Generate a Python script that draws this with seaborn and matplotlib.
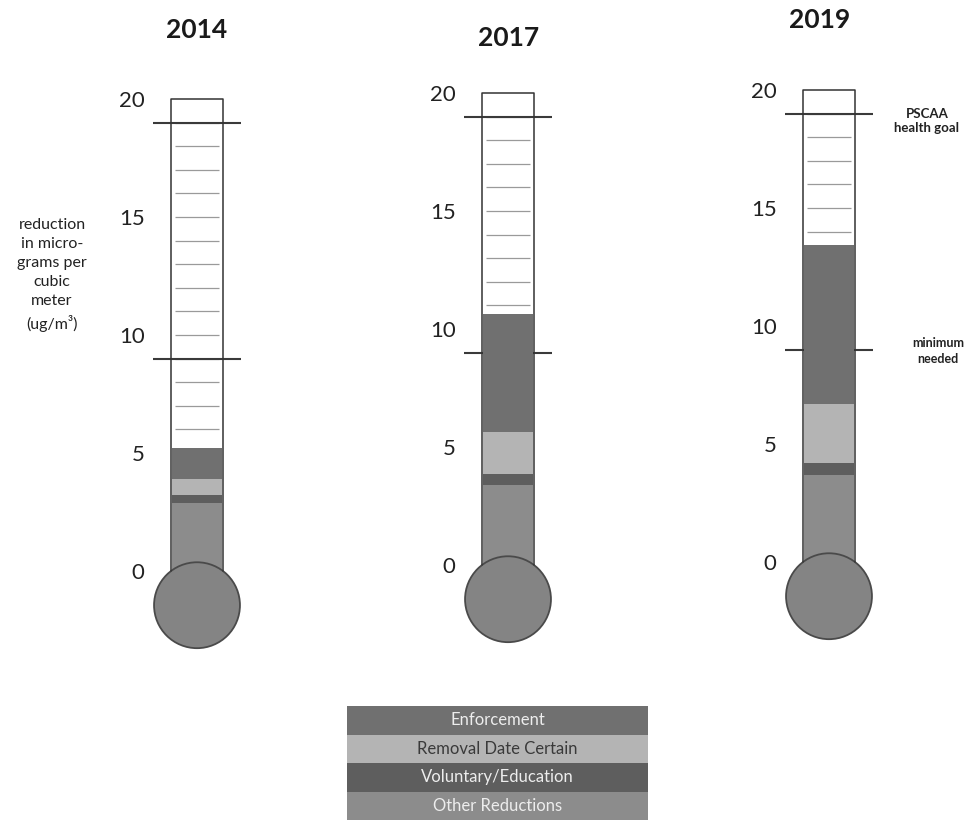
import numpy as np
import pandas as pd
import seaborn as sns
import matplotlib.pyplot as plt
from matplotlib.patches import Circle

# data (ug/m3 reduction)
years = ["2014", "2017", "2019"]
categories = ["Enforcement", "Removal Date Certain", "Voluntary/Education", "Other Reductions"]
enforcement = [1.3, 5.0, 6.75]
removal_date = [0.7, 1.8, 2.5]
voluntary = [0.3, 0.45, 0.5]
other = [2.9, 3.4, 3.7]
health_goal = 19
minimum_needed = 9
scale_ticks = [0, 5, 10, 15, 20]
scale_max = 20

colors = {"Enforcement": "#707070", "Removal Date Certain": "#b4b4b4",
          "Voluntary/Education": "#5e5e5e", "Other Reductions": "#8c8c8c"}

sns.set_style("white")
plt.rcParams['font.family'] = ['Lato', 'DejaVu Sans']

W, H = 969, 824
fig = plt.figure(figsize=(W / 100, H / 100), dpi=100)

s = 23.6          # px per unit
hw = 26 / s       # tube half width in data units
# (tube centre x px, px of the top of the tube) - the scan is a bit skewed
spots = [(197, 99), (508, 93), (829, 90)]
title_pos = [(197, 30), (509, 38), (820, 20)]

for i, year in enumerate(years):
    cx, y20 = spots[i]
    top_px = y20 - 1.0 * s
    bot_px = y20 + 24.5 * s
    ax = fig.add_axes([(cx - 26) / W, 1 - bot_px / H, 52 / W, (bot_px - top_px) / H])

    # empty tube with unit marks
    ax.fill_between([-hw, hw], 0, scale_max, color="white", zorder=0.5)
    ax.hlines(range(1, scale_max), -hw * 0.85, hw * 0.85, color="#9a9a9a", lw=0.9, zorder=1)
    ax.hlines([health_goal, minimum_needed], -1.85, 1.85, color="#3a3a3a", lw=1.5,
              zorder=2, clip_on=False)

    # stacked fill, bottom -> top: other, voluntary, removal, enforcement
    parts = [("Other Reductions", other[i]), ("Voluntary/Education", voluntary[i]),
             ("Removal Date Certain", removal_date[i]), ("Enforcement", enforcement[i])]
    tops = np.cumsum([p[1] for p in parts])
    for (name, _), top in reversed(list(zip(parts, tops))):
        sns.barplot(x=[year], y=[top], color=colors[name], width=2 * hw * 0.97,
                    saturation=1, errorbar=None, linewidth=0, ax=ax, zorder=3)

    # bulb and outline
    ax.add_patch(Circle((0, -1.45), 1.82, facecolor="#848484", edgecolor="#4a4a4a",
                        lw=1.3, zorder=4, clip_on=False))
    ax.plot([-hw, -hw, hw, hw], [0, scale_max, scale_max, 0], color="#333333", lw=1.1,
            zorder=5, clip_on=False)

    ax.set_xlim(-hw, hw)
    ax.set_ylim(-4.5, 21)
    ax.set_xticks([])
    ax.set_xlabel("")
    ax.set_ylabel("")
    ax.set_yticks(scale_ticks)
    ax.set_yticklabels([str(t) for t in scale_ticks], fontsize=16, color="#222222")
    ax.tick_params(axis="y", length=0, pad=19)
    for sp in ax.spines.values():
        sp.set_visible(False)
    ax.patch.set_alpha(0)

    tx, ty = title_pos[i]
    fig.text(tx / W, 1 - ty / H, year, fontsize=19, fontweight="bold",
             ha="center", va="center", color="#1a1a1a")

fig.text(52 / W, 1 - 275 / H, "reduction\nin micro-\ngrams per\ncubic\nmeter\n(ug/m³)",
         ha="center", va="center", fontsize=11.5, linespacing=1.45, color="#222222")
fig.text(927 / W, 1 - 121 / H, "PSCAA\nhealth goal", ha="center", va="center",
         fontsize=9.5, fontweight="bold", color="#222222", linespacing=1.3)
fig.text(938 / W, 1 - 351 / H, "minimum\nneeded", ha="center", va="center",
         fontsize=9, fontweight="bold", color="#222222", linespacing=1.4)

# legend block
lax = fig.add_axes([347 / W, 1 - 820 / H, 301 / W, 114 / H])
leg = pd.DataFrame({"cat": categories, "v": [1] * len(categories)})
sns.barplot(data=leg, y="cat", x="v", hue="cat", palette=colors, width=1.0,
            saturation=1, linewidth=0, legend=False, ax=lax)
lax.set_xlim(0, 1)
lax.set_ylim(len(categories) - 0.5, -0.5)
for k, c in enumerate(categories):
    lax.text(0.5, k, c, ha="center", va="center", fontsize=12,
             color="#3a3a3a" if c == "Removal Date Certain" else "#ededed")
lax.axis("off")

fig.savefig("out.png", dpi=100)
